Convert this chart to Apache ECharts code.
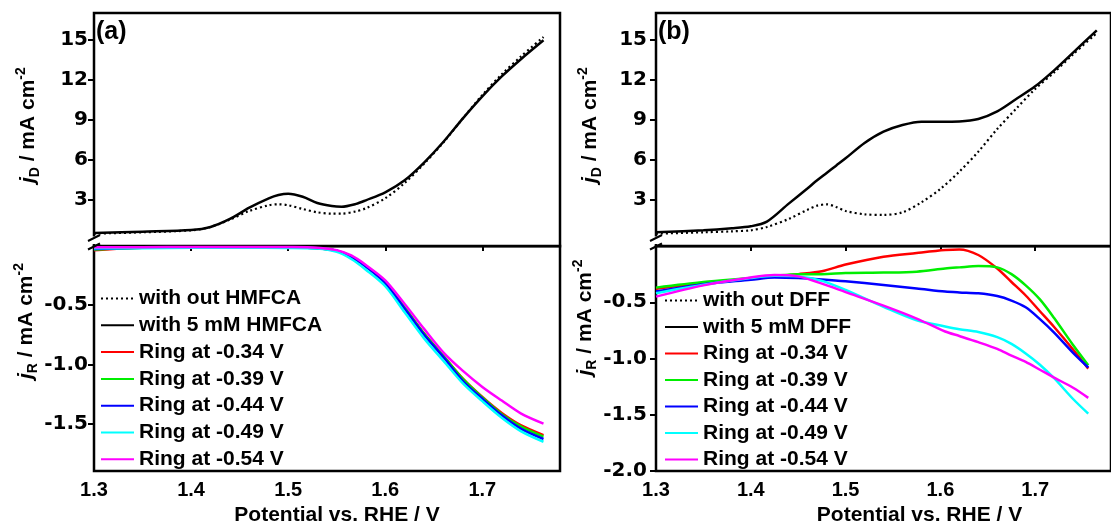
<!DOCTYPE html>
<html>
<head>
<meta charset="utf-8">
<script src="https://cdn.jsdelivr.net/npm/echarts@6/dist/echarts.min.js"></script>
<style>
  html, body { margin: 0; padding: 0; background: #fff; }
  #chart { width: 1111px; height: 527px; }
</style>
</head>
<body>
<div id="chart"></div>
<script>
// panel (a): disk currents
const diskPotA = [1.30, 1.35, 1.40, 1.42, 1.44, 1.46, 1.48, 1.49, 1.50, 1.515, 1.53, 1.545, 1.555, 1.57, 1.58, 1.60, 1.62, 1.64, 1.66, 1.68, 1.70, 1.72, 1.74, 1.763];
const jdWithoutA = [0.45, 0.55, 0.70, 0.95, 1.50, 2.15, 2.58, 2.65, 2.58, 2.30, 2.05, 1.95, 1.95, 2.12, 2.35, 3.10, 4.25, 5.70, 7.30, 9.10, 10.85, 12.40, 13.75, 15.20];
const jdWithA = [0.50, 0.60, 0.72, 0.95, 1.55, 2.40, 3.10, 3.35, 3.45, 3.22, 2.75, 2.52, 2.47, 2.68, 2.95, 3.55, 4.45, 5.78, 7.34, 9.10, 10.75, 12.24, 13.55, 14.95];

// panel (a): ring currents
const ringPotA = [1.30, 1.35, 1.40, 1.45, 1.50, 1.53, 1.55, 1.565, 1.58, 1.60, 1.62, 1.64, 1.66, 1.68, 1.70, 1.72, 1.74, 1.763];
const ringA034 = [-0.035, -0.015, -0.012, -0.012, -0.013, -0.018, -0.04, -0.09, -0.17, -0.31, -0.52, -0.74, -0.93, -1.12, -1.275, -1.41, -1.515, -1.597];
const ringA039 = [-0.03, -0.015, -0.012, -0.012, -0.013, -0.018, -0.04, -0.09, -0.17, -0.31, -0.52, -0.74, -0.93, -1.125, -1.28, -1.42, -1.525, -1.61];
const ringA044 = [-0.025, -0.015, -0.012, -0.012, -0.013, -0.018, -0.04, -0.09, -0.175, -0.315, -0.53, -0.75, -0.94, -1.14, -1.29, -1.43, -1.545, -1.63];
const ringA049 = [-0.02, -0.018, -0.015, -0.015, -0.016, -0.022, -0.05, -0.11, -0.20, -0.34, -0.56, -0.78, -0.97, -1.16, -1.31, -1.45, -1.565, -1.653];
const ringA054 = [-0.01, -0.01, -0.008, -0.008, -0.009, -0.014, -0.035, -0.08, -0.16, -0.29, -0.49, -0.70, -0.90, -1.055, -1.19, -1.305, -1.415, -1.50];

// panel (b): disk currents
const diskPotB = [1.30, 1.35, 1.38, 1.40, 1.417, 1.44, 1.46, 1.47, 1.48, 1.49, 1.50, 1.52, 1.54, 1.56, 1.58, 1.60, 1.62, 1.64, 1.66, 1.68, 1.70, 1.72, 1.74, 1.765];
const jdWithoutB = [0.45, 0.55, 0.62, 0.70, 0.95, 1.55, 2.25, 2.55, 2.65, 2.45, 2.15, 1.90, 1.85, 2.05, 2.80, 3.80, 5.10, 6.60, 8.30, 9.82, 11.30, 12.55, 13.90, 15.50];
const jdWithB = [0.55, 0.70, 0.85, 1.00, 1.35, 2.70, 3.86, 4.45, 5.00, 5.55, 6.10, 7.25, 8.10, 8.60, 8.85, 8.85, 8.87, 9.05, 9.62, 10.55, 11.50, 12.70, 14.03, 15.70];

// panel (b): ring currents
const ringPotB = [1.30, 1.35, 1.40, 1.425, 1.45, 1.475, 1.50, 1.54, 1.575, 1.605, 1.62, 1.64, 1.66, 1.675, 1.69, 1.705, 1.72, 1.74, 1.756];
const ringB034 = [-0.38, -0.33, -0.29, -0.27, -0.25, -0.225, -0.165, -0.095, -0.062, -0.036, -0.03, -0.08, -0.20, -0.32, -0.44, -0.58, -0.72, -0.92, -1.09];
const ringB039 = [-0.37, -0.32, -0.285, -0.265, -0.25, -0.25, -0.24, -0.236, -0.228, -0.20, -0.19, -0.178, -0.19, -0.25, -0.35, -0.475, -0.64, -0.88, -1.06];
const ringB044 = [-0.405, -0.34, -0.30, -0.28, -0.285, -0.297, -0.313, -0.347, -0.377, -0.405, -0.413, -0.421, -0.445, -0.485, -0.545, -0.65, -0.77, -0.95, -1.08];
const ringB049 = [-0.42, -0.345, -0.285, -0.265, -0.27, -0.31, -0.39, -0.54, -0.66, -0.715, -0.74, -0.765, -0.81, -0.87, -0.955, -1.055, -1.175, -1.36, -1.49];
const ringB054 = [-0.45, -0.35, -0.28, -0.258, -0.27, -0.335, -0.41, -0.53, -0.645, -0.76, -0.80, -0.855, -0.915, -0.975, -1.03, -1.10, -1.17, -1.26, -1.35];

// tick labels
const potTicks = [1.3, 1.4, 1.5, 1.6, 1.7];
const jdTicks = [3, 6, 9, 12, 15];
const jrTicksA = [-1.5, -1.0, -0.5];
const jrTicksB = [-2.0, -1.5, -1.0, -0.5];

const ringNames = ['Ring at -0.34 V', 'Ring at -0.39 V', 'Ring at -0.44 V', 'Ring at -0.49 V', 'Ring at -0.54 V'];
const ringColors = ['#ff0000', '#00ee00', '#0000ff', '#00ffff', '#ff00ff'];

const FONT = '"Liberation Sans", Arial, sans-serif';
const WIDE = '"DejaVu Sans", sans-serif';
const pairs = (xs, ys) => xs.map((x, i) => [x, ys[i]]);

const yName = (sub) => `{j|j}{sub|${sub}}{t| / mA cm}{sup|-2}`;
const yNameStyle = (shift) => ({
  color: '#000', fontFamily: FONT, fontSize: 21, fontWeight: 'bold',
  padding: [0, 0, 0, shift],
  rich: {
    j: { fontFamily: FONT, fontSize: 21, fontWeight: 'bold', fontStyle: 'italic', color: '#000', lineHeight: 28 },
    t: { fontFamily: FONT, fontSize: 21, fontWeight: 'bold', color: '#000', lineHeight: 28 },
    sub: { fontFamily: FONT, fontSize: 14, fontWeight: 'bold', color: '#000', verticalAlign: 'bottom', lineHeight: 14 },
    sup: { fontFamily: FONT, fontSize: 14, fontWeight: 'bold', color: '#000', verticalAlign: 'top', lineHeight: 14 }
  }
});

function xAxisCfg(gridIndex, shown, shift) {
  return {
    type: 'value', gridIndex, min: 1.3, max: 1.78,
    axisLine: { show: false }, splitLine: { show: false },
    axisTick: { show: shown, inside: false, length: 5, lineStyle: { color: '#000', width: 2 }, customValues: potTicks },
    axisLabel: {
      show: shown, customValues: potTicks, margin: 9, color: '#000',
      fontFamily: FONT, fontSize: 20, fontWeight: 'bold',
      formatter: (v) => v.toFixed(1)
    },
    name: shown ? 'Potential vs. RHE / V' : '',
    nameLocation: 'middle', nameGap: 34,
    nameTextStyle: { color: '#000', fontFamily: FONT, fontSize: 21, fontWeight: 'bold', padding: [0, 0, 0, shift] }
  };
}

function yAxisCfg(gridIndex, min, max, ticks, sub, shift, digits, margin) {
  return {
    type: 'value', gridIndex, min, max,
    axisLine: { show: false }, splitLine: { show: false },
    axisTick: { show: true, length: 6, lineStyle: { color: '#000', width: 2 }, customValues: ticks },
    axisLabel: {
      customValues: ticks, margin, color: '#000',
      fontFamily: WIDE, fontSize: 20, fontWeight: 'bold',
      formatter: (v) => v.toFixed(digits)
    },
    name: yName(sub), nameLocation: 'middle', nameGap: 52, nameRotate: 90,
    nameTextStyle: yNameStyle(shift)
  };
}

function lineSeries(name, xs, ys, idx, color, dotted) {
  return {
    name, type: 'line', xAxisIndex: idx, yAxisIndex: idx,
    data: pairs(xs, ys), smooth: 0.3, symbol: 'none',
    lineStyle: { color, width: dotted ? 2.2 : 2.5, type: dotted ? [2, 3] : 'solid' },
    itemStyle: { color }
  };
}

const gridBox = { show: true, borderColor: '#000', borderWidth: 2.5, backgroundColor: 'transparent' };

const legendCfg = (left, top, gap, names) => ({
  orient: 'vertical', left, top, itemWidth: 33, itemHeight: 14, itemGap: gap,
  itemStyle: { opacity: 0 },
  textStyle: { color: '#000', fontFamily: FONT, fontSize: 21, fontWeight: 'bold', lineHeight: 21 },
  data: names, selectedMode: false
});

function breakMarks(x) {
  return [
    { type: 'rect', shape: { x: x - 3, y: 236.5, width: 6, height: 7.5 }, style: { fill: '#fff' }, z: 100 },
    { type: 'line', shape: { x1: x - 6, y1: 241, x2: x + 6, y2: 235 }, style: { stroke: '#000', lineWidth: 2 }, z: 101 },
    { type: 'line', shape: { x1: x - 6, y1: 249.5, x2: x + 6, y2: 243.5 }, style: { stroke: '#000', lineWidth: 2 }, z: 101 }
  ];
}

const chart = echarts.init(document.getElementById('chart'));
chart.setOption({
  animation: false,
  backgroundColor: '#fff',
  title: [
    { text: '(a)', left: 96, top: 20, padding: 0, textStyle: { color: '#000', fontFamily: FONT, fontSize: 25, fontWeight: 'bold' } },
    { text: '(b)', left: 658, top: 20, padding: 0, textStyle: { color: '#000', fontFamily: FONT, fontSize: 25, fontWeight: 'bold' } }
  ],
  legend: [
    legendCfg(95, 283, 5.8, ['with out HMFCA', 'with 5 mM HMFCA'].concat(ringNames)),
    legendCfg(659, 285, 5.5, ['with out DFF', 'with 5 mM DFF'].concat(ringNames))
  ],
  grid: [
    Object.assign({ left: 94, top: 13, width: 466, height: 233.3 }, gridBox),
    Object.assign({ left: 94, top: 246, width: 466, height: 225.5 }, gridBox),
    Object.assign({ left: 656, top: 13, width: 481, height: 233.3 }, gridBox),
    Object.assign({ left: 656, top: 246, width: 481, height: 225.5 }, gridBox)
  ],
  xAxis: [
    xAxisCfg(0, false, 0),
    xAxisCfg(1, true, 20),
    xAxisCfg(2, false, 0),
    xAxisCfg(3, true, 72)
  ],
  yAxis: [
    yAxisCfg(0, -0.5, 17, jdTicks, 'D', 9, 0, 6),
    yAxisCfg(1, -1.9, 0, jrTicksA, 'R', 75, 1, 6),
    yAxisCfg(2, -0.5, 17, jdTicks, 'D', 9, 0, 9),
    yAxisCfg(3, -2.0, 0, jrTicksB, 'R', 82, 1, 9)
  ],
  series: [
    lineSeries('with out HMFCA', diskPotA, jdWithoutA, 0, '#000', true),
    lineSeries('with 5 mM HMFCA', diskPotA, jdWithA, 0, '#000', false),
    lineSeries(ringNames[0], ringPotA, ringA034, 1, ringColors[0], false),
    lineSeries(ringNames[1], ringPotA, ringA039, 1, ringColors[1], false),
    lineSeries(ringNames[2], ringPotA, ringA044, 1, ringColors[2], false),
    lineSeries(ringNames[3], ringPotA, ringA049, 1, ringColors[3], false),
    lineSeries(ringNames[4], ringPotA, ringA054, 1, ringColors[4], false),
    lineSeries('with out DFF', diskPotB, jdWithoutB, 2, '#000', true),
    lineSeries('with 5 mM DFF', diskPotB, jdWithB, 2, '#000', false),
    lineSeries(ringNames[0], ringPotB, ringB034, 3, ringColors[0], false),
    lineSeries(ringNames[1], ringPotB, ringB039, 3, ringColors[1], false),
    lineSeries(ringNames[2], ringPotB, ringB044, 3, ringColors[2], false),
    lineSeries(ringNames[3], ringPotB, ringB049, 3, ringColors[3], false),
    lineSeries(ringNames[4], ringPotB, ringB054, 3, ringColors[4], false)
  ],
  graphic: breakMarks(94).concat(breakMarks(656))
});
</script>
</body>
</html>
